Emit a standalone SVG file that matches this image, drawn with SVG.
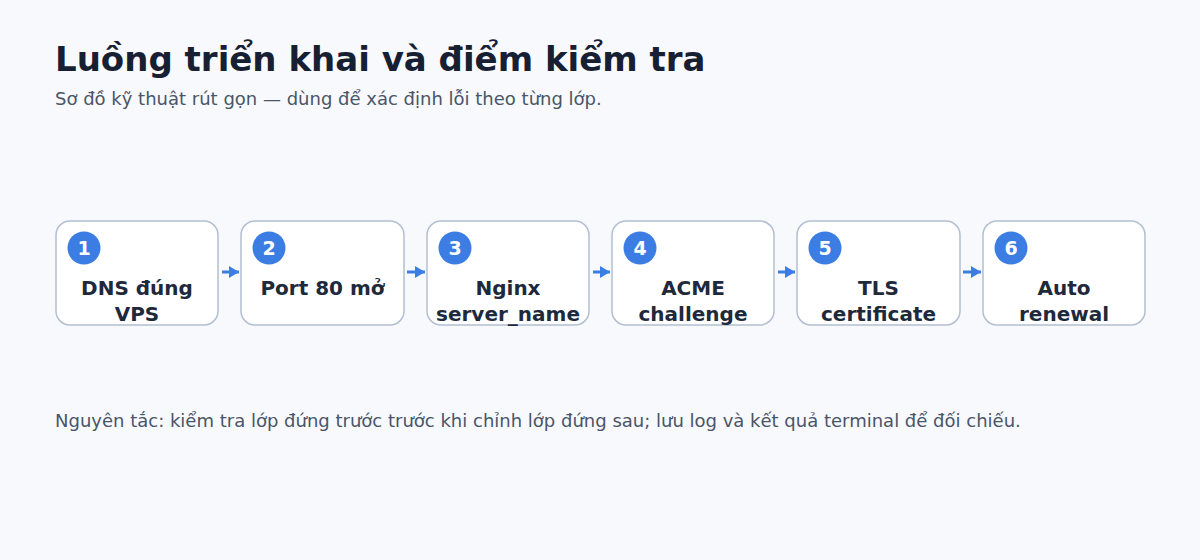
<svg xmlns="http://www.w3.org/2000/svg" width="1200" height="560" viewBox="0 0 1200 560">
<style>
text{font-family:"DejaVu Sans","Noto Sans",sans-serif}
.title{font-size:34px;font-weight:bold;fill:#172033}
.sub{font-size:18px;fill:#4a5568}
.box{fill:#ffffff;stroke:#b3bfd1;stroke-width:1.5}
.badge{fill:#3b7de3}
.num{font-size:19px;font-weight:bold;fill:#ffffff;text-anchor:middle}
.lbl{font-size:20px;font-weight:bold;fill:#1e293b;text-anchor:middle}
.conn{stroke:#3b7de3;stroke-width:3;fill:none;marker-end:url(#ah)}
</style>
<defs>
<marker id="ah" viewBox="0 0 10 12" refX="10" refY="6" markerWidth="10" markerHeight="12" orient="auto" markerUnits="userSpaceOnUse">
<path d="M0,0 L10,6 L0,12 Z" fill="#3b7de3"/>
</marker>
</defs>
<rect width="1200" height="560" fill="#f7f9fc"/>
<text class="title" x="55" y="71">Luồng triển khai và điểm kiểm tra</text>
<text class="sub" x="55" y="105">Sơ đồ kỹ thuật rút gọn — dùng để xác định lỗi theo từng lớp.</text>
<g id="connectors">
<line class="conn" x1="222" y1="272" x2="239" y2="272"/>
<line class="conn" x1="407" y1="272" x2="425" y2="272"/>
<line class="conn" x1="593" y1="272" x2="610" y2="272"/>
<line class="conn" x1="778" y1="272" x2="795" y2="272"/>
<line class="conn" x1="963" y1="272" x2="981" y2="272"/>
</g>
<g id="node1">
<rect class="box" x="56" y="221" width="162" height="104" rx="14"/>
<circle class="badge" cx="84" cy="248" r="16.5"/>
<text class="num" x="84" y="255">1</text>
<text class="lbl" x="137" y="295">DNS đúng</text>
<text class="lbl" x="137" y="321">VPS</text>
</g>
<g id="node2">
<rect class="box" x="241" y="221" width="163" height="104" rx="14"/>
<circle class="badge" cx="269" cy="248" r="16.5"/>
<text class="num" x="269" y="255">2</text>
<text class="lbl" x="322.5" y="295">Port 80 mở</text>
</g>
<g id="node3">
<rect class="box" x="427" y="221" width="162" height="104" rx="14"/>
<circle class="badge" cx="455" cy="248" r="16.5"/>
<text class="num" x="455" y="255">3</text>
<text class="lbl" x="508" y="295">Nginx</text>
<text class="lbl" x="508" y="321">server_name</text>
</g>
<g id="node4">
<rect class="box" x="612" y="221" width="162" height="104" rx="14"/>
<circle class="badge" cx="640" cy="248" r="16.5"/>
<text class="num" x="640" y="255">4</text>
<text class="lbl" x="693" y="295">ACME</text>
<text class="lbl" x="693" y="321">challenge</text>
</g>
<g id="node5">
<rect class="box" x="797" y="221" width="163" height="104" rx="14"/>
<circle class="badge" cx="825" cy="248" r="16.5"/>
<text class="num" x="825" y="255">5</text>
<text class="lbl" x="878.5" y="295">TLS</text>
<text class="lbl" x="878.5" y="321">certificate</text>
</g>
<g id="node6">
<rect class="box" x="983" y="221" width="162" height="104" rx="14"/>
<circle class="badge" cx="1011" cy="248" r="16.5"/>
<text class="num" x="1011" y="255">6</text>
<text class="lbl" x="1064" y="295">Auto</text>
<text class="lbl" x="1064" y="321">renewal</text>
</g>
<text class="sub" x="55" y="427">Nguyên tắc: kiểm tra lớp đứng trước trước khi chỉnh lớp đứng sau; lưu log và kết quả terminal để đối chiếu.</text>
</svg>
